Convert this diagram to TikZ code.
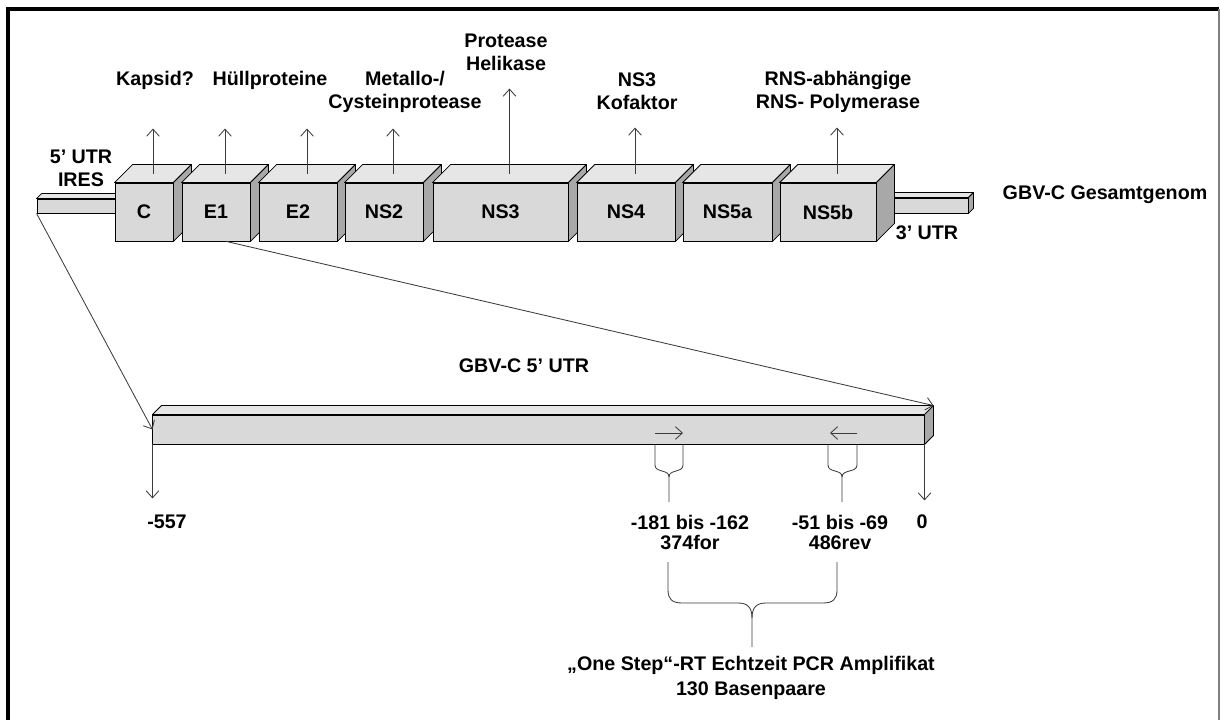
\documentclass[tikz,border=0pt]{standalone}
\usepackage{fontspec}
\setmainfont{Liberation Sans}
\usetikzlibrary{arrows.meta,positioning,calc}

\definecolor{frontgray}{RGB}{217,217,217}
\definecolor{topgray}{RGB}{230,230,230}
\definecolor{sidegray}{RGB}{168,168,168}
\definecolor{linegray}{RGB}{60,60,60}

\tikzset{
  lbl/.style={font=\fontsize{14}{16.4}\selectfont\bfseries, align=center, inner sep=0pt},
  frontface/.style={draw=black, fill=frontgray, line width=0.6pt, inner sep=0pt},
  topface/.style={draw=black, fill=topgray, line width=0.6pt, line join=round},
  sideface/.style={draw=black, fill=sidegray, line width=0.6pt, line join=round},
  genarrow/.style={-{Straight Barb[length=5pt,width=9pt]}, linegray, line width=0.6pt},
  primerline/.style={linegray, line width=0.6pt},
}

% one protein block: name, left x, right x, text
\newcommand{\genbox}[4]{%
  \node[frontface, lbl, minimum width={(#3-#2)*0.025cm}, minimum height=1.45cm] (#1) at ({(#2+#3)/2},212) {#4};
  \filldraw[topface] (#1.north west) -- ++(18,-18) -- ($(#1.north east)+(18,-18)$) -- (#1.north east) -- cycle;
  \filldraw[sideface] (#1.north east) -- ++(18,-18) -- ($(#1.south east)+(18,-18)$) -- (#1.south east) -- cycle;
}

% primer clip below the bar: left x, right x, stem x
\newcommand{\primerclip}[3]{%
  \draw[primerline] (#1,445) -- (#1,465) .. controls (#1,473) and (#3,469) .. (#3,477) -- (#3,502);
  \draw[primerline] (#2,445) -- (#2,465) .. controls (#2,473) and (#3,469) .. (#3,477);
}

\begin{document}
\begin{tikzpicture}[x=0.025cm, y=-0.025cm]
  \useasboundingbox (0,0) rectangle (1220,720);

  % frame
  \draw[line width=2.2pt] (8,720) -- (8,9) -- (1219,9);
  \draw[gray, line width=1pt] (1219,9) -- (1219,720);

  % UTR stubs
  \node[frontface, minimum width=2.075cm, minimum height=0.35cm] (utr5) at (78.5,206) {};
  \filldraw[topface] (utr5.north west) -- ++(5,-5) -- ($(utr5.north east)+(5,-5)$) -- (utr5.north east) -- cycle;
  \node[frontface, minimum width=2.45cm, minimum height=0.375cm] (utr3) at (919,205.5) {};
  \filldraw[topface] (utr3.north west) -- ++(5,-5) -- ($(utr3.north east)+(5,-5)$) -- (utr3.north east) -- cycle;
  \filldraw[sideface] (utr3.north east) -- ++(5,-5) -- ($(utr3.south east)+(5,-5)$) -- (utr3.south east) -- cycle;

  % protein blocks
  \genbox{C}{115}{173}{C}
  \genbox{E1}{182}{250}{E1}
  \genbox{E2}{259}{337}{E2}
  \genbox{NS2}{345}{423}{NS2}
  \genbox{NS3}{433}{568}{NS3}
  \genbox{NS4}{577}{675}{NS4}
  \genbox{NS5a}{683}{772}{NS5a}
  \genbox{NS5b}{780}{876}{NS5b}

  % functions
  \node[lbl] (kapsid) at (155,80) {Kapsid?};
  \node[lbl] (huell) at (270,80) {Hüllproteine};
  \node[lbl] (metallo) at (405,91.5) {Metallo-/\\Cysteinprotease};
  \node[lbl] (helikase) at (506,52.5) {Protease\\Helikase};
  \node[lbl] (kofaktor) at (637,91.5) {NS3\\Kofaktor};
  \node[lbl] (polymerase) at (838,91.5) {RNS-abhängige\\RNS- Polymerase};
  \draw[genarrow] ($(C.north)+(9,-9)$) -- ++(0,-45);
  \draw[genarrow] ($(E1.north)+(9,-9)$) -- ++(0,-45);
  \draw[genarrow] ($(E2.north)+(9,-9)$) -- ++(0,-45);
  \draw[genarrow] ($(NS2.north)+(9,-9)$) -- ++(0,-45);
  \draw[genarrow] ($(NS3.north)+(9,-9)$) -- ++(0,-85);
  \draw[genarrow] ($(NS4.north)+(9,-9)$) -- ++(0,-46);
  \draw[genarrow] ($(NS5b.north)+(9,-9)$) -- ++(0,-46);

  % genome labels
  \node[lbl] (utr5lbl) at (81,168.5) {5' UTR\\IRES};
  \node[lbl] (utr3lbl) at (927,233) {3' UTR};
  \node[lbl] (genom) at (1105,195) {GBV-C Gesamtgenom};

  % 5' UTR enlarged
  \node[lbl] (barlbl) at (524,366) {GBV-C 5' UTR};
  \node[frontface, minimum width=19.275cm, minimum height=0.725cm] (bar) at (538.5,429.5) {};
  \filldraw[topface] (bar.north west) -- ++(9,-9) -- ($(bar.north east)+(9,-9)$) -- (bar.north east) -- cycle;
  \filldraw[sideface] (bar.north east) -- ++(9,-9) -- ($(bar.south east)+(9,-9)$) -- (bar.south east) -- cycle;
  \draw[genarrow] (utr5.south west) -- (bar.west);
  \draw[genarrow] ($(E1.south)!0.3!(E1.south east)$) -- ($(bar.north east)+(9,-9)$);

  % positions
  \draw[genarrow] (bar.south west) -- ++(0,54);
  \draw[genarrow] (bar.south east) -- ++(0,56);
  \node[lbl] (pos557) at (167,522) {-557};
  \node[lbl] (pos0) at (922,522) {0};

  % primers
  \coordinate (fwd) at (655,433);
  \coordinate (rev) at (857,433);
  \draw[genarrow] (fwd) -- ++(28,0);
  \draw[genarrow] (rev) -- ++(-27,0);
  \primerclip{655}{683}{669}
  \primerclip{828}{857}{842}
  \node[lbl, font=\fontsize{14}{14.2}\selectfont\bfseries] (fwdlbl) at (690,532) {-181 bis -162\\374for};
  \node[lbl, font=\fontsize{14}{14.2}\selectfont\bfseries] (revlbl) at (840,532) {-51 bis -69\\486rev};

  % amplicon
  \draw[primerline] (668,562) -- (668,590) .. controls (668,599) and (672,603) .. (682,603) -- (738,603) .. controls (748,603) and (752,608) .. (752,618) -- (752,647);
  \draw[primerline] (837,562) -- (837,590) .. controls (837,599) and (833,603) .. (823,603) -- (766,603) .. controls (756,603) and (752,608) .. (752,618);
  \node[lbl, font=\fontsize{14}{17.8}\selectfont\bfseries] (amplikon) at (751,677.5) {„One Step“-RT Echtzeit PCR Amplifikat\\130 Basenpaare};
\end{tikzpicture}
\end{document}
